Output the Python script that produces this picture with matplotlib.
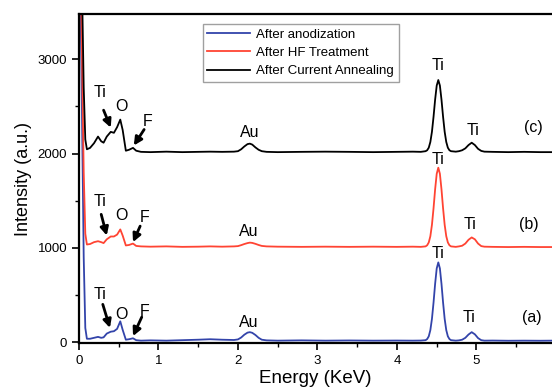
import matplotlib
matplotlib.use("Agg")
import matplotlib.pyplot as plt
from matplotlib.ticker import MultipleLocator

plt.rcParams['font.family'] = ['Liberation Sans', 'DejaVu Sans']

# energy grid (keV)
energy = [0.00, 0.03, 0.06, 0.08, 0.10, 0.14, 0.19, 0.24, 0.28, 0.31, 0.35, 0.40,
          0.44, 0.48, 0.52, 0.55, 0.59, 0.63, 0.68, 0.72, 0.78, 0.90, 1.10, 1.30,
          1.50, 1.65, 1.80,
          1.95, 2.00, 2.04, 2.08, 2.12, 2.15, 2.18, 2.22, 2.26, 2.30, 2.36,
          2.50, 2.80, 3.10, 3.40, 3.70, 4.00, 4.20, 4.30,
          4.36, 4.38, 4.40, 4.42, 4.44, 4.46, 4.48, 4.50, 4.52, 4.54, 4.56, 4.58,
          4.60, 4.62, 4.64, 4.66, 4.68,
          4.74, 4.78, 4.82, 4.86, 4.90, 4.94, 4.98, 5.02, 5.06, 5.10,
          5.20, 5.40, 5.60, 5.80, 5.95]

# (a) after anodization
anodized = [4500, 3000, 900, 150, 35, 35, 45, 55, 45, 50, 90, 110,
            115, 140, 220, 130, 25, 30, 40, 20, 15, 18, 15, 20,
            25, 30, 25,
            22, 28, 48, 78, 100, 105, 98, 75, 45, 25, 18,
            15, 18, 15, 17, 15, 16, 15, 16,
            20, 32, 61, 127, 246, 419, 618, 781, 845, 781, 618, 419,
            246, 127, 61, 32, 20,
            15, 18, 25, 45, 80, 105, 82, 42, 20, 15,
            16, 14, 15, 14, 15]

# (b) after HF treatment
hf_treated = [5000, 3500, 1800, 1150, 1035, 1040, 1060, 1070, 1060, 1050, 1090, 1120,
              1120, 1140, 1195, 1130, 1025, 1030, 1045, 1020, 1015, 1012, 1015, 1010,
              1012, 1015, 1012,
              1015, 1018, 1028, 1040, 1050, 1055, 1052, 1042, 1030, 1020, 1015,
              1012, 1010, 1012, 1010, 1012, 1010, 1012, 1010,
              1015, 1027, 1057, 1123, 1244, 1419, 1620, 1785, 1850, 1785, 1620, 1419,
              1244, 1123, 1057, 1027, 1015,
              1010, 1015, 1022, 1045, 1085, 1110, 1090, 1045, 1018, 1012,
              1010, 1008, 1010, 1008, 1008]

# (c) after current annealing
annealed = [6000, 4200, 2700, 2150, 2045, 2060, 2110, 2180, 2130, 2115, 2180, 2230,
            2220, 2280, 2360, 2250, 2030, 2040, 2060, 2030, 2018, 2015, 2020, 2015,
            2018, 2020, 2018,
            2020, 2025, 2045, 2075, 2100, 2105, 2095, 2065, 2040, 2025, 2018,
            2015, 2018, 2020, 2018, 2015, 2018, 2020, 2018,
            2025, 2035, 2062, 2123, 2231, 2390, 2572, 2721, 2780, 2721, 2572, 2390,
            2231, 2123, 2062, 2035, 2025,
            2020, 2025, 2035, 2055, 2090, 2115, 2090, 2050, 2028, 2020,
            2018, 2015, 2018, 2015, 2015]

# text labels: (text, energy, intensity)
labels = [("Ti", 0.26, 2645), ("O", 0.53, 2500), ("F", 0.86, 2340), ("Au", 2.15, 2220),
          ("Ti", 4.52, 2930), ("Ti", 4.96, 2245), ("(c)", 5.71, 2275),
          ("Ti", 0.26, 1490), ("O", 0.54, 1345), ("F", 0.82, 1320), ("Au", 2.13, 1175),
          ("Ti", 4.52, 1935), ("Ti", 4.92, 1250), ("(b)", 5.66, 1250),
          ("Ti", 0.26, 508), ("O", 0.53, 296), ("F", 0.82, 328), ("Au", 2.14, 212),
          ("Ti", 4.52, 940), ("Ti", 4.90, 265), ("(a)", 5.70, 265)]

# arrows: (tail energy, tail intensity, head energy, head intensity)
arrows = [(0.31, 2460, 0.40, 2275), (0.82, 2255, 0.69, 2085),
          (0.28, 1355, 0.35, 1130), (0.77, 1230, 0.68, 1060),
          (0.30, 400, 0.39, 150), (0.79, 265, 0.68, 63)]

fig = plt.figure(figsize=(5.52, 3.9), dpi=100)
ax = fig.add_axes([0.143, 0.1205, 0.857, 0.8435])

ax.plot(energy, anodized, color='#3344aa', lw=1.3, label='After anodization')
ax.plot(energy, hf_treated, color='#ff4433', lw=1.3, label='After HF Treatment')
ax.plot(energy, annealed, color='black', lw=1.3, label='After Current Annealing')

for txt, x, y in labels:
    ax.text(x, y, txt, fontsize=11.5, ha='center', va='center')

for x0, y0, x1, y1 in arrows:
    ax.annotate('', xy=(x1, y1), xytext=(x0, y0),
                arrowprops=dict(arrowstyle='-|>', color='black', lw=2,
                                mutation_scale=12, shrinkA=0, shrinkB=0))

ax.set_xlim(0, 5.95)
ax.set_ylim(-10, 3480)
ax.xaxis.set_major_locator(MultipleLocator(1))
ax.xaxis.set_minor_locator(MultipleLocator(0.5))
ax.yaxis.set_major_locator(MultipleLocator(1000))
ax.yaxis.set_minor_locator(MultipleLocator(500))
ax.tick_params(which='major', direction='out', length=5, width=1.2, labelsize=9.5)
ax.tick_params(which='minor', direction='out', length=3, width=1.0)
for side in ['left', 'bottom', 'top']:
    ax.spines[side].set_linewidth(1.6)
ax.spines['right'].set_visible(False)

ax.set_xlabel('Energy (KeV)', fontsize=13.5, labelpad=2)
ax.set_ylabel('Intensity (a.u.)', fontsize=13, labelpad=4)

leg = ax.legend(loc='upper left', bbox_to_anchor=(0.248, 0.99), fontsize=9.5,
                fancybox=False, edgecolor='#888888', handlelength=3.2,
                borderpad=0.35, labelspacing=0.45, handletextpad=0.5)
leg.get_frame().set_linewidth(1.0)

fig.savefig('out.png', dpi=100)
